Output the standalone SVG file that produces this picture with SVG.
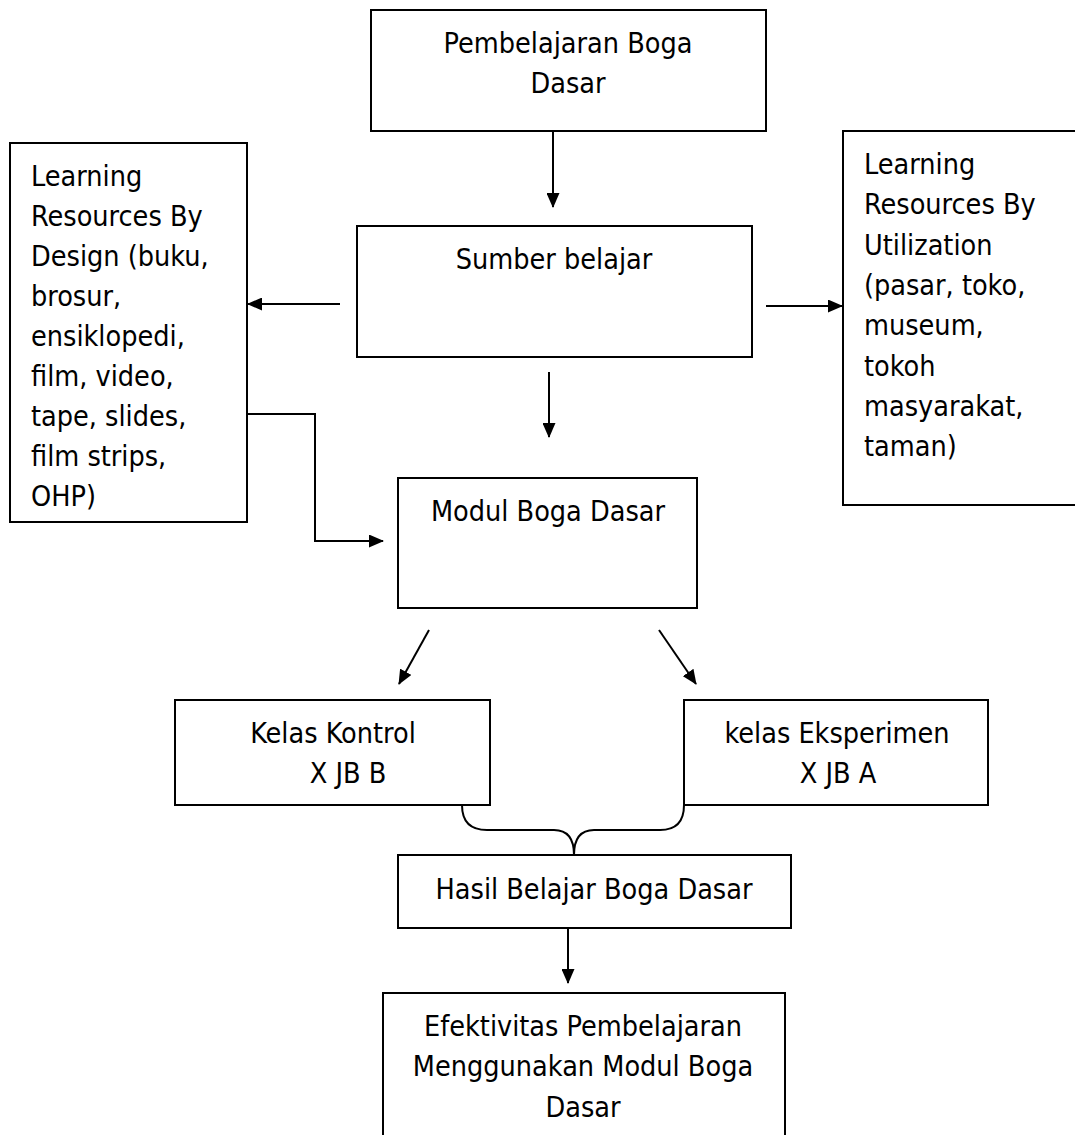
<svg xmlns="http://www.w3.org/2000/svg" width="1075" height="1135" viewBox="0 0 1075 1135">
<style>
  .box{fill:#fff;stroke:#000;stroke-width:2}
  .t{font-family:"DejaVu Sans Condensed","DejaVu Sans",Verdana,sans-serif;font-stretch:condensed;font-size:28.5px;fill:#000}
  .c{text-anchor:middle}
  .ln{fill:none;stroke:#000;stroke-width:2}
</style>
<defs>
  <marker id="ah" markerWidth="15" markerHeight="13" refX="14" refY="6.5" orient="auto" markerUnits="userSpaceOnUse" viewBox="0 0 15 13">
    <path d="M0,0 L15,6.5 L0,13 z" fill="#000"/>
  </marker>
</defs>
<rect width="1075" height="1135" fill="#fff"/>
<g id="n-pembelajaran">
  <rect class="box" x="371" y="10" width="395" height="121"/>
  <text class="t c" x="568" y="53">Pembelajaran Boga</text>
  <text class="t c" x="568" y="93">Dasar</text>
</g>
<g id="n-sumber">
  <rect class="box" x="357" y="226" width="395" height="131"/>
  <text class="t c" x="554" y="269">Sumber belajar</text>
</g>
<g id="n-design">
  <rect class="box" x="10" y="143" width="237" height="379"/>
  <text class="t" x="31" y="186">Learning</text>
  <text class="t" x="31" y="226">Resources By</text>
  <text class="t" x="31" y="266">Design (buku,</text>
  <text class="t" x="31" y="306">brosur,</text>
  <text class="t" x="31" y="346">ensiklopedi,</text>
  <text class="t" x="31" y="386">film, video,</text>
  <text class="t" x="31" y="426">tape, slides,</text>
  <text class="t" x="31" y="466">film strips,</text>
  <text class="t" x="31" y="506">OHP)</text>
</g>
<g id="n-utilization">
  <rect class="box" x="843" y="131" width="240" height="374"/>
  <text class="t" x="864" y="174">Learning</text>
  <text class="t" x="864" y="214">Resources By</text>
  <text class="t" x="864" y="255">Utilization</text>
  <text class="t" x="864" y="295">(pasar, toko,</text>
  <text class="t" x="864" y="335">museum,</text>
  <text class="t" x="864" y="376">tokoh</text>
  <text class="t" x="864" y="416">masyarakat,</text>
  <text class="t" x="864" y="456">taman)</text>
</g>
<g id="n-modul">
  <rect class="box" x="398" y="478" width="299" height="130"/>
  <text class="t c" x="548" y="521">Modul Boga Dasar</text>
</g>
<g id="n-kontrol">
  <rect class="box" x="175" y="700" width="315" height="105"/>
  <text class="t c" x="333" y="743">Kelas Kontrol</text>
  <text class="t c" x="348" y="783">X JB B</text>
</g>
<g id="n-eksperimen">
  <rect class="box" x="684" y="700" width="304" height="105"/>
  <text class="t c" x="837" y="743">kelas Eksperimen</text>
  <text class="t c" x="838" y="783">X JB A</text>
</g>
<g id="n-hasil">
  <rect class="box" x="398" y="855" width="393" height="73"/>
  <text class="t c" x="594" y="899">Hasil Belajar Boga Dasar</text>
</g>
<g id="n-efektivitas">
  <rect class="box" x="383" y="993" width="402" height="150"/>
  <text class="t c" x="583" y="1036">Efektivitas Pembelajaran</text>
  <text class="t c" x="583" y="1076">Menggunakan Modul Boga</text>
  <text class="t c" x="583" y="1117">Dasar</text>
</g>
<g id="connectors">
  <line class="ln" x1="553" y1="131" x2="553" y2="207" marker-end="url(#ah)"/>
  <line class="ln" x1="340" y1="304" x2="248" y2="304" marker-end="url(#ah)"/>
  <line class="ln" x1="766" y1="306" x2="842" y2="306" marker-end="url(#ah)"/>
  <line class="ln" x1="549" y1="372" x2="549" y2="437" marker-end="url(#ah)"/>
  <polyline class="ln" points="247,414 315,414 315,541 383,541" marker-end="url(#ah)"/>
  <line class="ln" x1="429" y1="630" x2="399" y2="684" marker-end="url(#ah)"/>
  <line class="ln" x1="659" y1="630" x2="696" y2="684" marker-end="url(#ah)"/>
  <path class="ln" d="M462,805 Q462,830 487,830 L554,830 Q574,830 574,855 Q574,830 594,830 L660,830 Q684,830 684,805"/>
  <line class="ln" x1="568" y1="928" x2="568" y2="983" marker-end="url(#ah)"/>
</g>
</svg>
